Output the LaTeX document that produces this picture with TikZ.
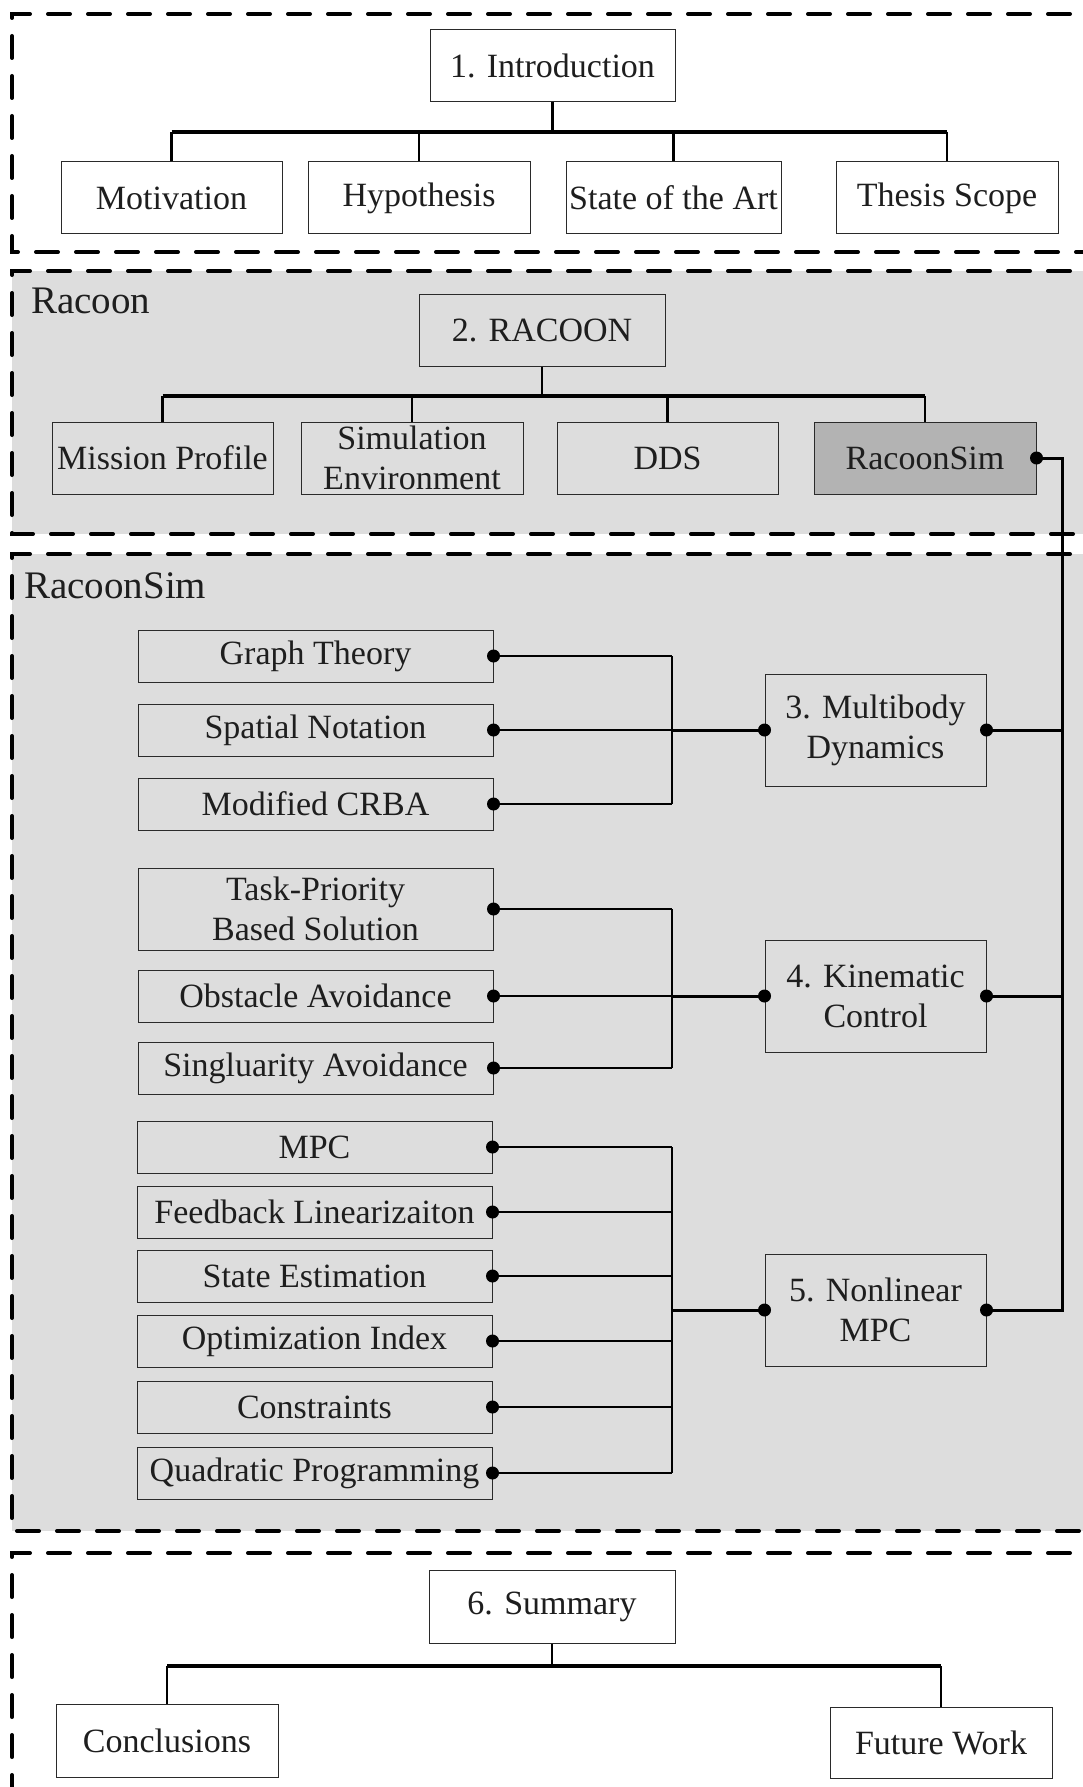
\documentclass[tikz,border=0pt]{standalone}
\usepackage{fontspec}
\setmainfont{Liberation Serif}
\definecolor{regiongray}{HTML}{DDDDDD}
\definecolor{simgray}{HTML}{B3B3B3}
\definecolor{inktext}{HTML}{1E1E1E}
\definecolor{boxline}{HTML}{2A2A2A}
\begin{document}
\begin{tikzpicture}[x=1pt,y=-1pt,
  region/.style={line width=4pt, dash pattern=on 22pt off 18pt, line cap=round},
  box/.style={draw=boxline, line width=1pt, inner sep=0pt, align=center,
    text=inktext, font=\fontsize{34}{40}\selectfont},
  tallbox/.style={box, minimum width=#1, minimum height=72pt},
  itembox/.style={box, minimum width=355pt, minimum height=#1},
  chapbox/.style={box, minimum width=221pt, minimum height=112pt},
  lbl/.style={inner sep=0pt, anchor=base west, text=inktext,
    font=\fontsize{39}{44}\selectfont},
  tree/.style={line width=2.5pt},
  treebus/.style={line width=3.5pt},
  feed/.style={line width=2pt},
  trunk/.style={line width=3pt},
  dotr/.style={fill=black}
]
\useasboundingbox (0,0) rectangle (1083,1787);
\clip (0,0) rectangle (1083,1787);

% ---- chapter regions ----
\fill[regiongray] (12,271) rectangle (1110,534);
\fill[regiongray] (12,554) rectangle (1110,1531);
\draw[region] (1110,14) -- (12,14) -- (12,252) -- (1110,252);
\draw[region] (1110,271) -- (12,271) -- (12,534) -- (1110,534);
\draw[region] (1110,554) -- (12,554) -- (12,1531) -- (1110,1531);
\draw[region] (1110,1553) -- (12,1553) -- (12,1810);

\node[lbl] (lblracoon) at (31,313) {Racoon};
\node[lbl] (lblsim) at (24,598) {RacoonSim};

% ---- 1. Introduction ----
\node[tallbox=245pt] (intro) at (552.5,66) {1. Introduction};
\node[tallbox=221pt] (mot) at (171.5,198) {Motivation};
\node[tallbox=222pt] (hyp) at (419,198) {Hypothesis};
\node[tallbox=215pt] (sota) at (673.5,198) {State of the Art};
\node[tallbox=222pt] (scope) at (947,198) {Thesis Scope};
\coordinate (ibus) at (0,132);
\draw[treebus] (ibus -| mot) -- (ibus -| scope);
\draw[tree] (intro.south) -- (ibus -| intro);
\foreach \n in {mot,hyp,sota,scope} \draw[tree] (ibus -| \n) -- (\n.north);

% ---- 2. RACOON ----
\node[tallbox=246pt] (racoon) at (542,330) {2. RACOON};
\node[tallbox=221pt] (mission) at (162.5,458) {Mission Profile};
\node[tallbox=222pt] (simenv) at (412,458) {Simulation\\Environment};
\node[tallbox=221pt] (dds) at (667.5,458) {DDS};
\node[tallbox=222pt, fill=simgray] (rsim) at (925,458) {RacoonSim};
\coordinate (rbus) at (0,396);
\draw[treebus] (rbus -| mission) -- (rbus -| rsim);
\draw[tree] (racoon.south) -- (rbus -| racoon);
\foreach \n in {mission,simenv,dds,rsim} \draw[tree] (rbus -| \n) -- (\n.north);

% ---- RacoonSim chapters ----
\node[itembox=52pt] (gt) at (315.5,656) {Graph Theory};
\node[itembox=52pt] (sn) at (315.5,730) {Spatial Notation};
\node[itembox=52pt] (crba) at (315.5,804) {Modified CRBA};
\node[chapbox] (mbd) at (875.5,730) {3. Multibody\\Dynamics};

\node[itembox=82pt] (tp) at (315.5,909) {Task-Priority\\Based Solution};
\node[itembox=52pt] (oa) at (315.5,996) {Obstacle Avoidance};
\node[itembox=52pt] (sa) at (315.5,1068) {Singluarity Avoidance};
\node[chapbox] (kin) at (875.5,996) {4. Kinematic\\Control};

\node[itembox=52pt] (mpc) at (314.5,1147) {MPC};
\node[itembox=52pt] (fl) at (314.5,1212) {Feedback Linearizaiton};
\node[itembox=52pt] (se) at (314.5,1276) {State Estimation};
\node[itembox=52pt] (oi) at (314.5,1341) {Optimization Index};
\node[itembox=52pt] (con) at (314.5,1407) {Constraints};
\node[itembox=52pt] (qp) at (314.5,1473) {Quadratic Programming};
\node[chapbox] (nmpc) at (875.5,1310) {5. Nonlinear\\MPC};

\coordinate (gbus) at (671.5,0);
\coordinate (tk) at (1062,0);

% topic feeds into each chapter
\foreach \n in {gt,sn,crba} \draw[feed] (\n.east) -- (\n.east -| gbus);
\draw[feed] (gt.east -| gbus) -- (crba.east -| gbus);
\draw[trunk] (mbd.west -| gbus) -- (mbd.west);

\foreach \n in {tp,oa,sa} \draw[feed] (\n.east) -- (\n.east -| gbus);
\draw[feed] (tp.east -| gbus) -- (sa.east -| gbus);
\draw[trunk] (kin.west -| gbus) -- (kin.west);

\foreach \n in {mpc,fl,se,oi,con,qp} \draw[feed] (\n.east) -- (\n.east -| gbus);
\draw[feed] (mpc.east -| gbus) -- (qp.east -| gbus);
\draw[trunk] (nmpc.west -| gbus) -- (nmpc.west);

% chapters back to RacoonSim
\draw[trunk] (rsim.east) -- (rsim.east -| tk) -- (nmpc.east -| tk) -- (nmpc.east);
\draw[trunk] (mbd.east) -- (mbd.east -| tk);
\draw[trunk] (kin.east) -- (kin.east -| tk);

\foreach \n in {gt,sn,crba,tp,oa,sa,mpc,fl,se,oi,con,qp,rsim,mbd,kin,nmpc}
  \fill[dotr] (\n.east) circle (6.5pt);
\foreach \n in {mbd,kin,nmpc}
  \fill[dotr] (\n.west) circle (6.5pt);

% ---- 6. Summary ----
\node[tallbox=246pt, minimum height=73pt] (summ) at (552,1606.5) {6. Summary};
\node[tallbox=222pt, minimum height=73pt] (concl) at (167,1740.5) {Conclusions};
\node[tallbox=222pt, minimum height=71pt] (fw) at (941,1742.5) {Future Work};
\coordinate (sbus) at (0,1666);
\draw[treebus] (sbus -| concl) -- (sbus -| fw);
\draw[tree] (summ.south) -- (sbus -| summ);
\foreach \n in {concl,fw} \draw[tree] (sbus -| \n) -- (\n.north);
\end{tikzpicture}
\end{document}
